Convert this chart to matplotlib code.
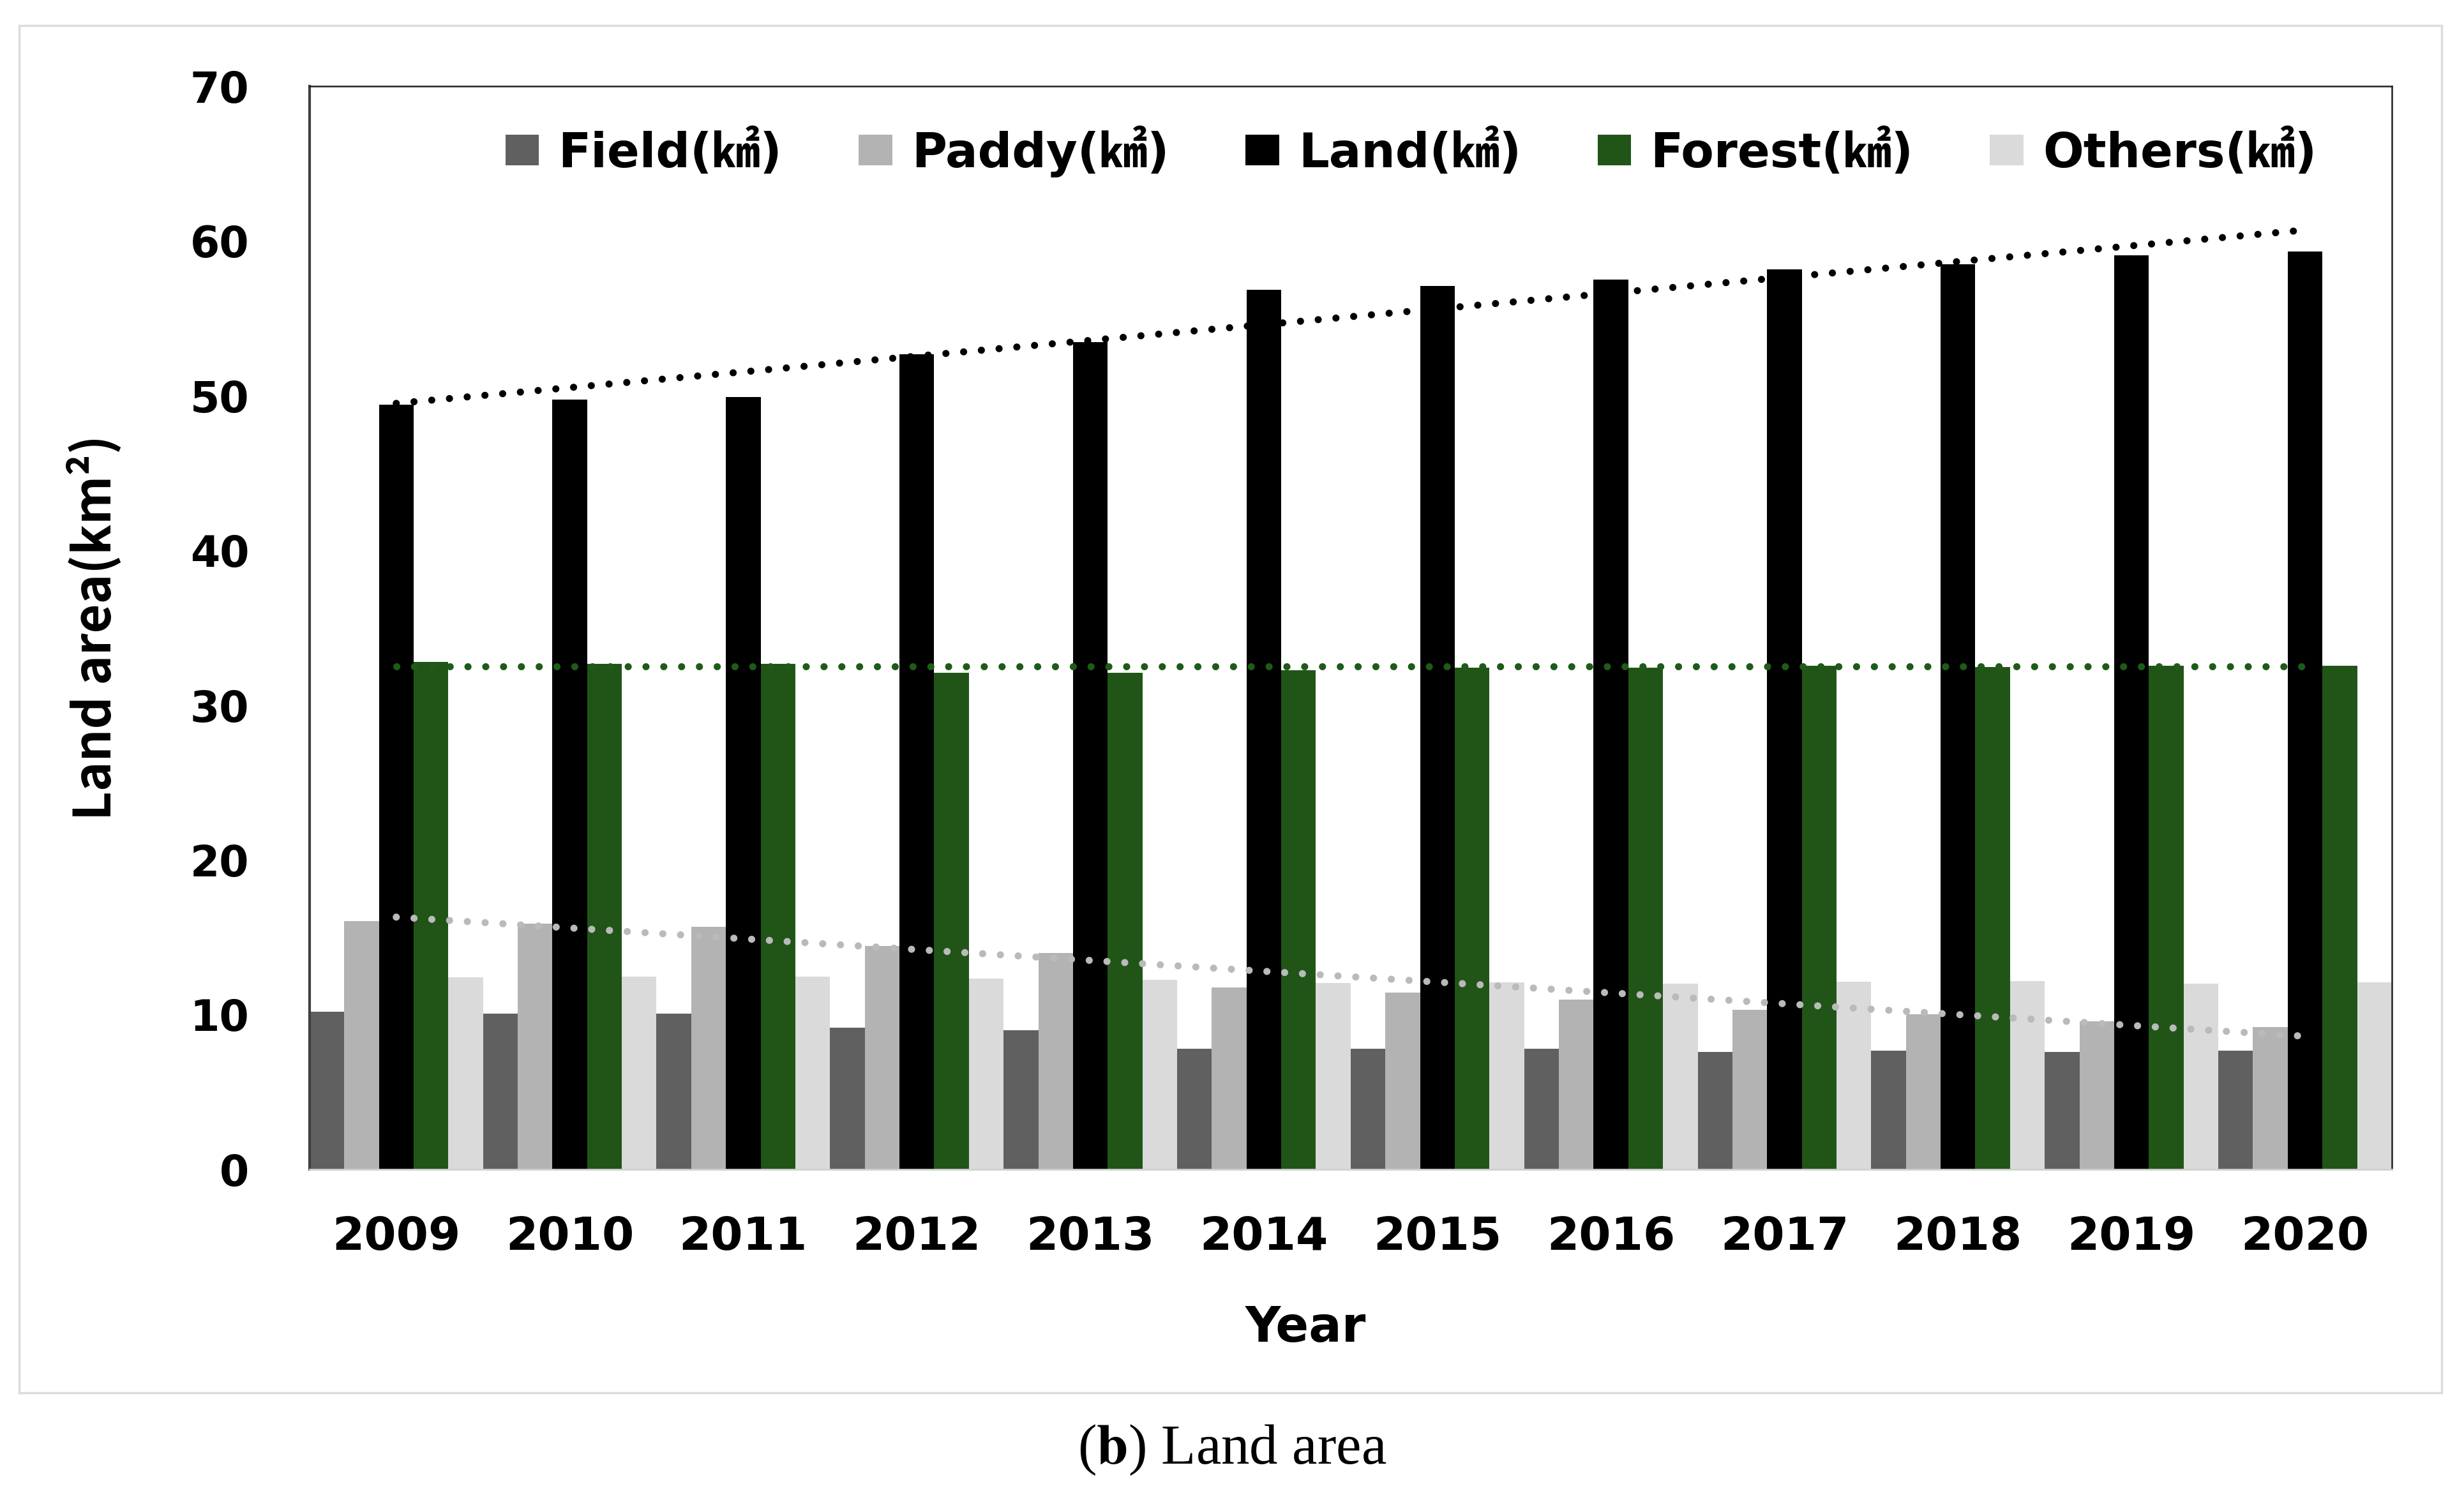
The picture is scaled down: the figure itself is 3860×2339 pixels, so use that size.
import matplotlib.pyplot as plt
from matplotlib.patches import Rectangle
import numpy as np

# Data (km2)
years = ['2009', '2010', '2011', '2012', '2013', '2014',
         '2015', '2016', '2017', '2018', '2019', '2020']
field = [10.2, 10.05, 10.05, 9.16, 8.98, 7.81, 7.81, 7.81, 7.6, 7.65, 7.6, 7.65]
paddy = [16.03, 15.86, 15.69, 14.45, 14.0, 11.77, 11.41, 10.95, 10.29, 10.01, 9.57, 9.19]
land = [49.42, 49.75, 49.9, 52.68, 53.47, 56.82, 57.08, 57.48, 58.14, 58.47, 59.05, 59.31]
forest = [32.78, 32.65, 32.67, 32.1, 32.1, 32.26, 32.43, 32.43, 32.56, 32.48, 32.56, 32.56]
others = [12.42, 12.46, 12.46, 12.32, 12.24, 12.05, 12.07, 11.99, 12.13, 12.16, 11.99, 12.07]

# linear trend lines: value at first and last year
land_trend = [49.5, 60.7]
forest_trend = [32.5, 32.5]
paddy_trend = [16.3, 8.6]

labels = ['Field(㎢)', 'Paddy(㎢)', 'Land(㎢)', 'Forest(㎢)', 'Others(㎢)']
colors = ['#606060', '#b3b3b3', '#000000', '#215518', '#dadada']

fig = plt.figure(figsize=(38.6, 23.39), dpi=100)
ax = fig.add_axes([0.1256, 0.2168, 0.8451, 0.7255])

# outer light frame
fig.patches.append(Rectangle((30 / 3860, 1 - 2182 / 2339), 3795 / 3860, 2142 / 2339,
                             transform=fig.transFigure, fill=False,
                             edgecolor='#dcdcdc', linewidth=2.5))

x = np.arange(len(years))
w = 0.2
series = [field, paddy, land, forest, others]
for i, (vals, lab, col) in enumerate(zip(series, labels, colors)):
    ax.bar(x + (i - 2) * w, vals, w, color=col, label=lab, linewidth=0, zorder=2)

# trend lines
ends = [x[0], x[-1]]
dot = dict(linestyle=(0, (0.01, 2.5)), dash_capstyle='round', linewidth=8, zorder=3)
ax.plot(ends, land_trend, color='#000000', **dot)
ax.plot(ends, forest_trend, color='#1f5a1a', **dot)
ax.plot(ends, paddy_trend, color='#bababa', **dot)

ax.set_xlim(-0.5, len(years) - 0.5)
ax.set_ylim(0, 70)
ax.set_yticks(range(0, 71, 10))
ax.set_xticks(x)
ax.set_xticklabels(years)
ax.tick_params(axis='y', length=0, pad=68, labelsize=48)
ax.tick_params(axis='x', length=0, pad=52, labelsize=52)
for t in ax.get_xticklabels() + ax.get_yticklabels():
    t.set_fontweight('bold')

for s in ['top', 'right']:
    ax.spines[s].set_color('#202020')
    ax.spines[s].set_linewidth(1.8)
ax.spines['left'].set_color('#404040')
ax.spines['left'].set_linewidth(3)
ax.spines['bottom'].set_color('#d0d0d0')
ax.spines['bottom'].set_linewidth(2)

ax.set_ylabel('Land area(km²)', fontsize=57, fontweight='bold',
              family=['Noto Sans CJK KR', 'DejaVu Sans'])
ax.yaxis.set_label_coords(-0.09, 0.5)
ax.set_xlabel('Year', fontsize=55, fontweight='bold')
ax.xaxis.set_label_coords(0.4785, -0.125)
ax.xaxis.label.set_va('top')

ax.legend(loc='center', bbox_to_anchor=(0.529, 0.94), ncol=5, frameon=False,
          prop={'family': ['DejaVu Sans', 'Noto Sans CJK KR'], 'weight': 'bold', 'size': 54},
          handlelength=0.7, handleheight=0.6, handletextpad=0.4, columnspacing=1.6)

fig.text(0.5, 1 - 2272 / 2339, r'($\mathbf{b}$) Land area', ha='center', va='center',
         fontsize=64, family='Liberation Serif', math_fontfamily='stix')

fig.savefig('out.png', dpi=100)
